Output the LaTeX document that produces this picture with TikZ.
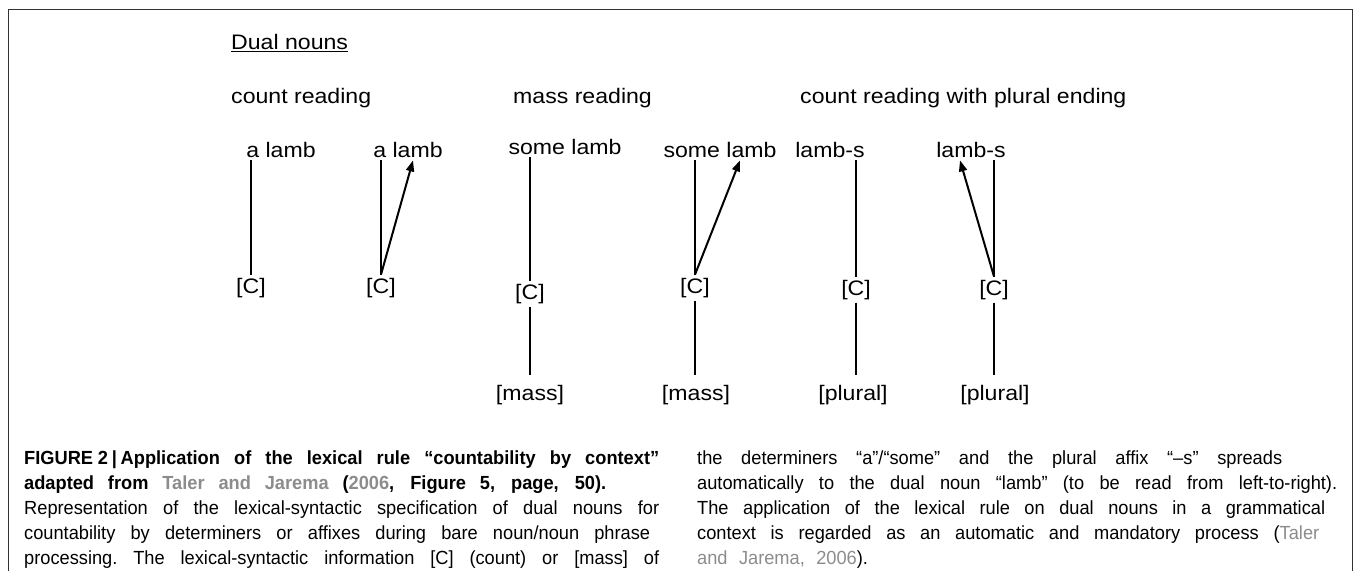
\documentclass[tikz,border=0pt]{standalone}
\usepackage{fontspec}
\setmainfont{Liberation Sans}
\newfontfamily\diagfont{Liberation Sans}[FakeStretch=1.1]
\newfontfamily\capfont{Liberation Sans}[FakeStretch=0.96]
\usepackage{tikz}
\usetikzlibrary{arrows.meta}
\definecolor{refgrey}{gray}{0.55}
\newcommand{\capfull}[2][635pt]{\leavevmode\hbox to #1{\spaceskip=.28em plus 1fil\xspaceskip=.28em plus 1fil\relax #2}}

\begin{document}
\begin{tikzpicture}[x=1pt, y=-1pt,
  every node/.style={font=\diagfont\fontsize{21}{25}\selectfont, inner sep=0pt},
  word/.style={anchor=base, inner ysep=3pt},
  feat/.style={anchor=base, inner ysep=3pt, outer ysep=7pt},
  link/.style={line width=1.2pt},
  spread/.style={line width=2pt, -{Triangle[length=11pt,width=8pt]}},
  caption/.style={anchor=north west, text width=640pt, align=left,
    font=\capfont\fontsize{19}{25}\selectfont}]
\useasboundingbox (0,0) rectangle (1357,571);
\draw [black!80, line width=1pt] (8,571) |- (1352,9) -- (1352,571);
\node[anchor=base west] (title) at (231,49) {Dual nouns};
\draw [line width=1.2pt] ([yshift=-2.5pt]title.base west) -- ([yshift=-2.5pt]title.base east);
\node[anchor=base west] (hcount) at (231,103) {count reading};
\node[anchor=base west] (hmass) at (513,103) {mass reading};
\node[anchor=base west] (hplural) at (800,103) {count reading with plural ending};
\node[word] (w1) at (281,157) {a lamb};
\node[word] (w2) at (408,157) {a lamb};
\node[word] (w3) at (565,154) {some lamb};
\node[word] (w4) at (720,157) {some lamb};
\node[word] (w5) at (830,157) {lamb-s};
\node[word] (w6) at (971,157) {lamb-s};
\node[word] (c1) at (251,293) {[C]};
\node[word] (c2) at (381,293) {[C]};
\node[word] (c3) at (530,299) {[C]};
\node[word] (c4) at (695,293) {[C]};
\node[word] (c5) at (856,295) {[C]};
\node[word] (c6) at (994,295) {[C]};
\node[feat] (m3) at (530,400) {[mass]};
\node[feat] (m4) at (696,400) {[mass]};
\node[feat] (p5) at (853,400) {[plural]};
\node[feat] (p6) at (995,400) {[plural]};
\foreach \c/\w in {c1/w1,c2/w2,c3/w3,c4/w4,c5/w5,c6/w6}
  \draw[link] (\c.north) -- (\c.north |- \w.south);
\foreach \c/\m in {c3/m3,c4/m4,c5/p5,c6/p6}
  \draw[link] (\c.south) -- (\c.south |- \m.north);
\draw[spread] (c2.north) -- ([xshift=5pt]w2.south);
\draw[spread] (c4.north) -- ([xshift=20pt]w4.south);
\draw[spread] (c6.north) -- ([xshift=-11pt]w6.south);
\node[caption] (capleft) at (24,451) {%
  {\bfseries\capfull{FIGURE\hspace{.25em}2\hspace{.2em}|\hspace{.2em}Application of the lexical rule “countability by context”}}\\
  {\bfseries\capfull[582pt]{adapted from {\color{refgrey}Taler and Jarema} ({\color{refgrey}2006}, Figure 5, page, 50).}}\\
  \capfull{Representation of the lexical-syntactic specification of dual nouns for}\\
  \capfull[626pt]{countability by determiners or affixes during bare noun/noun phrase}\\
  \capfull{processing. The lexical-syntactic information [C] (count) or [mass] of}};
\node[caption] (capright) at (697,451) {%
  \capfull[585pt]{the determiners “a”/“some” and the plural affix “–s” spreads}\\
  \capfull[640pt]{automatically to the dual noun “lamb” (to be read from left-to-right).}\\
  \capfull[628pt]{The application of the lexical rule on dual nouns in a grammatical}\\
  \capfull[622pt]{context is regarded as an automatic and mandatory process ({\color{refgrey}Taler}}\\
  {\color{refgrey}and\hspace{.6em}Jarema,\hspace{.6em}2006}).};
\end{tikzpicture}
\end{document}
